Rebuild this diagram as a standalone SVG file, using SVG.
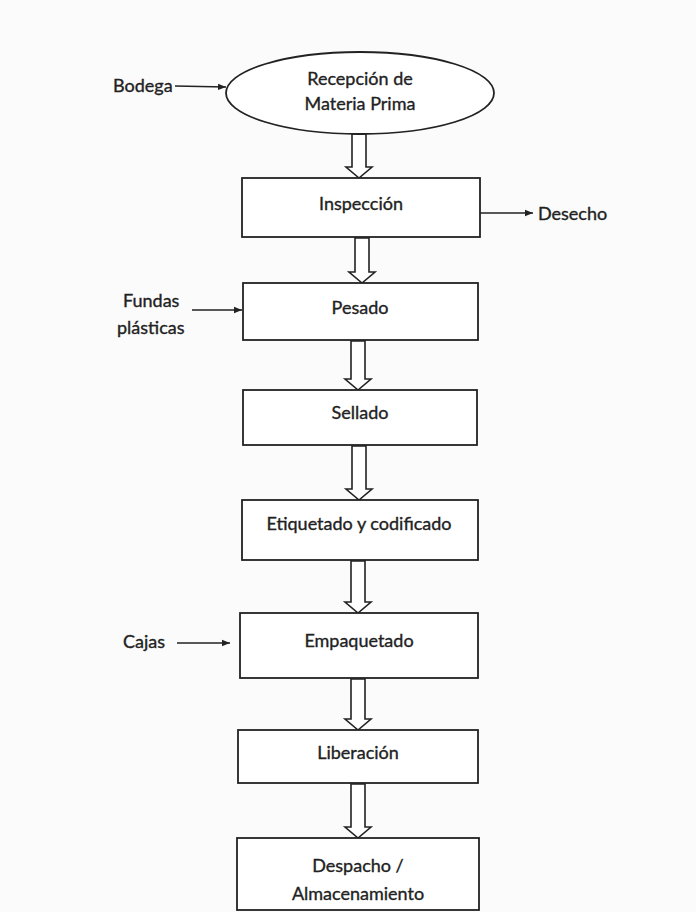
<svg xmlns="http://www.w3.org/2000/svg" width="696" height="912" viewBox="0 0 696 912">
<defs>
<style>
.box{fill:#fff;stroke:#222;stroke-width:1.8}
.t{font-family:Lato,"Liberation Sans",sans-serif;font-size:18px;fill:#222;stroke:#222;stroke-width:0.35;text-anchor:middle;dominant-baseline:central}
.l{font-family:Lato,"Liberation Sans",sans-serif;font-size:18px;fill:#222;stroke:#222;stroke-width:0.35;dominant-baseline:central}
.ba{fill:#fff;stroke:#222;stroke-width:1.6;stroke-linejoin:miter}
.ln{stroke:#222;stroke-width:1.4;fill:none}
</style>
<marker id="ah" viewBox="0 0 10 10" refX="10" refY="5" markerWidth="8" markerHeight="8" orient="auto" markerUnits="userSpaceOnUse">
<path d="M0,1 L10,5 L0,9 Z" fill="#222"/>
</marker>
</defs>
<rect width="696" height="912" fill="#fbfbfb"/>
<g id="connectors">
<line class="ln" x1="175" y1="86" x2="226" y2="87" marker-end="url(#ah)"/>
<line class="ln" x1="480" y1="213" x2="533" y2="213" marker-end="url(#ah)"/>
<line class="ln" x1="192" y1="310" x2="242" y2="310" marker-end="url(#ah)"/>
<line class="ln" x1="177" y1="643" x2="230" y2="643" marker-end="url(#ah)"/>
<path class="ba" d="M352,134 V167 H346 L359,178 L372,167 H366 V134 Z"/>
<path class="ba" d="M355,238 V272 H349 L362,283 L375,272 H369 V238 Z"/>
<path class="ba" d="M351,341 V379 H345 L358,390 L371,379 H365 V341 Z"/>
<path class="ba" d="M352,446 V489 H346 L359,500 L372,489 H366 V446 Z"/>
<path class="ba" d="M351,561 V602 H345 L358,613 L371,602 H365 V561 Z"/>
<path class="ba" d="M351,679 V719 H345 L358,730 L371,719 H365 V679 Z"/>
<path class="ba" d="M351,784 V827 H345 L358,838 L371,827 H365 V784 Z"/>
</g>
<g id="bodega"><text class="l" x="113" y="85">Bodega</text></g>
<g id="recepcion">
<ellipse class="box" cx="360" cy="93" rx="134" ry="41"/>
<text class="t" x="360" y="78">Recepción de</text>
<text class="t" x="360" y="103">Materia Prima</text>
</g>
<g id="inspeccion">
<rect class="box" x="242" y="178" width="238" height="59"/>
<text class="t" x="361" y="203">Inspección</text>
</g>
<g id="desecho"><text class="l" x="538" y="213">Desecho</text></g>
<g id="fundas">
<text class="l" x="123" y="300">Fundas</text>
<text class="l" x="117" y="327">plásticas</text>
</g>
<g id="pesado">
<rect class="box" x="243" y="283" width="235" height="57"/>
<text class="t" x="360" y="307">Pesado</text>
</g>
<g id="sellado">
<rect class="box" x="243" y="390" width="234" height="55"/>
<text class="t" x="360" y="412">Sellado</text>
</g>
<g id="etiquetado">
<rect class="box" x="242" y="500" width="236" height="60"/>
<text class="t" x="359" y="523">Etiquetado y codificado</text>
</g>
<g id="cajas"><text class="l" x="123" y="641">Cajas</text></g>
<g id="empaquetado">
<rect class="box" x="240" y="613" width="238" height="65"/>
<text class="t" x="359" y="640">Empaquetado</text>
</g>
<g id="liberacion">
<rect class="box" x="238" y="730" width="240" height="53"/>
<text class="t" x="358" y="752">Liberación</text>
</g>
<g id="despacho">
<rect class="box" x="237" y="838" width="242" height="72"/>
<text class="t" x="358" y="865">Despacho /</text>
<text class="t" x="358" y="893">Almacenamiento</text>
</g>
</svg>
